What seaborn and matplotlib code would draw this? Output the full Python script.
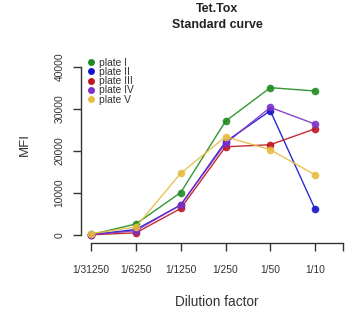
import matplotlib
matplotlib.use("Agg")
import matplotlib.pyplot as plt
from matplotlib.lines import Line2D
import seaborn as sns
import pandas as pd

# dilutions and MFI readings per plate
dilutions = ["1/31250", "1/6250", "1/1250", "1/250", "1/50", "1/10"]
plates = ["plate I", "plate II", "plate III", "plate IV", "plate V"]
plate1 = [100, 2600, 10100, 27100, 35100, 34300]
plate2 = [50, 1300, 7100, 22200, 29600, 6100]
plate3 = [30, 500, 6300, 21000, 21500, 25300]
plate4 = [60, 1000, 7200, 21800, 30400, 26400]
plate5 = [300, 1900, 14700, 23400, 20300, 14300]
colors = ["#1E8B1E", "#1414CC", "#C0141E", "#7B30C8", "#E8BC40"]

rows = []
for name, vals in zip(plates, [plate1, plate2, plate3, plate4, plate5]):
    for i, v in enumerate(vals):
        rows.append({"plate": name, "pos": i + 1, "MFI": v})
df = pd.DataFrame(rows)

sns.set_style("white")
plt.rcParams["font.family"] = ["Liberation Sans", "DejaVu Sans"]

fig = plt.figure(figsize=(3.51, 3.2), dpi=100)
ax = fig.add_axes([0.231, 0.241, 0.746, 0.569])

pal = dict(zip(plates, colors))
sns.lineplot(data=df, x="pos", y="MFI", hue="plate", palette=pal,
             marker="o", markersize=5.5, markeredgewidth=0, linewidth=1.0,
             alpha=0.9, legend=False, ax=ax)

ax.set_xlim(0.777, 6.62)
ax.set_ylim(-1900, 41500)
ax.set_xticks([1, 2, 3, 4, 5, 6, 6.62])
ax.set_xticklabels(dilutions + [""])
ax.set_yticks([0, 10000, 20000, 30000, 40000])
ax.set_yticklabels(["0", "10000", "20000", "30000", "40000"], rotation=90, va="center")
ax.set_xlabel("")
ax.set_ylabel("")

for s in ["top", "right"]:
    ax.spines[s].set_visible(False)
ax.spines["left"].set_bounds(0, 40000)
ax.spines["bottom"].set_bounds(1, 6.62)
for s in ["left", "bottom"]:
    ax.spines[s].set_color("#333333")
    ax.spines[s].set_linewidth(1.0)
ax.tick_params(axis="both", direction="out", length=6, width=1.0, color="#333333",
               labelsize=7.4, labelcolor="#333333", left=True, bottom=True)
ax.tick_params(axis="x", pad=10)
ax.tick_params(axis="y", pad=6)

handles = [Line2D([], [], marker="o", linestyle="", color=c, markersize=5,
                  markeredgewidth=0) for c in colors]
ax.legend(handles, plates, loc="upper left", bbox_to_anchor=(0.231, 0.832),
          bbox_transform=fig.transFigure, frameon=False, fontsize=7.4,
          handletextpad=0.1, labelspacing=-0.08, borderaxespad=0, handlelength=1.2,
          labelcolor="#333333")

fig.text(0.618, 0.972, "Tet.Tox", ha="center", va="center", fontsize=8.9,
         fontweight="bold", color="#222222")
fig.text(0.618, 0.922, "Standard curve", ha="center", va="center", fontsize=8.9,
         fontweight="bold", color="#222222")
fig.text(0.071, 0.547, "MFI", ha="center", va="center", rotation=90,
         fontsize=9.5, color="#333333")
fig.text(0.618, 0.056, "Dilution factor", ha="center", va="center",
         fontsize=9.8, color="#333333")

fig.savefig("out.png", dpi=100)
